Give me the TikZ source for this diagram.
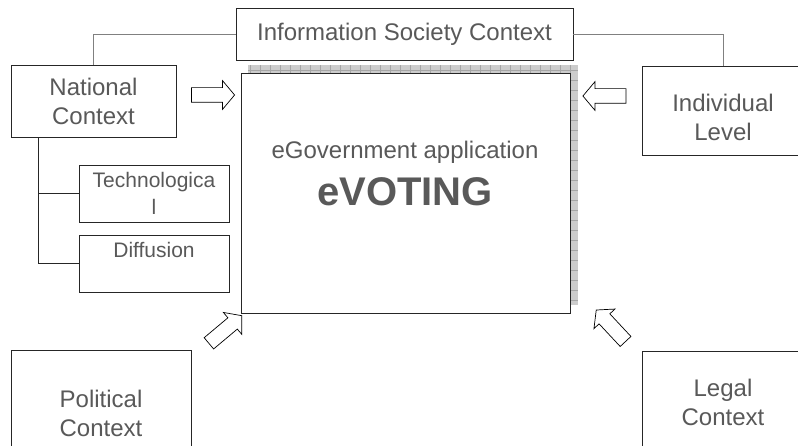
\documentclass[tikz,border=0pt]{standalone}
\usepackage{fontspec}
\setmainfont{Liberation Sans}
\usetikzlibrary{shapes.arrows}

\definecolor{txtgray}{HTML}{595959}

\begin{document}
\begin{tikzpicture}[x=1pt, y=-1pt,
  box/.style={draw=black!85, line width=0.9pt, fill=white, align=center,
    text=txtgray, font=\fontsize{24}{29}\selectfont},
  subbox/.style={box, font=\fontsize{21}{27}\selectfont},
  txt/.style={text=txtgray, align=center, font=\fontsize{24}{29}\selectfont},
  link/.style={draw=gray, line width=0.7pt},
  blockarrow/.style={single arrow, draw=black, line width=0.7pt, fill=white,
    minimum height=43pt, inner xsep=0pt, inner ysep=7pt,
    single arrow head extend=7pt, single arrow tip angle=100}
]

  % Bildgroesse festlegen
  \useasboundingbox (0,0) rectangle (798,446);
  \clip (0,0) rectangle (798,446);

  % Schatten der Mitte
  \fill[gray!40] (248,65) rectangle (578,305);
  \draw[gray!70, line width=0.4pt, step=10pt] (248,65) grid (578,305);

  % Kaesten
  \node[box, minimum width=337pt, minimum height=52pt] (info) at (404.5,34) {Information Society Context};
  \node[box, minimum width=329pt, minimum height=240pt] (app) at (405.5,193) {};
  \node[box, minimum width=165pt, minimum height=72pt] (nat) at (93.5,101) {National\\Context};
  \node[subbox, minimum width=150pt, minimum height=57pt] (tech) at (154,193.5) {Technologica\\l};
  \node[subbox, minimum width=150pt, minimum height=57pt] (diff) at (154,263.5) {Diffusion\\~};
  \node[box, minimum width=162pt, minimum height=89pt] (ind) at (723,110.5) {};
  \node[box, minimum width=180pt, minimum height=127pt] (pol) at (101,413.5) {Political\\Context};
  \node[box, minimum width=162pt, minimum height=103pt] (leg) at (723,402.5) {Legal\\Context};

  % Texte
  \node[txt] (ind-t) at (723,117) {Individual\\Level};
  \node[txt] (app-t) at (405,152) {eGovernment application};
  \node[txt, font=\fontsize{40}{48}\bfseries] (app-v) at (405,192) {eVOTING};

  % Verbindungen
  \draw[link] (nat.north) |- (info.west);
  \draw[link] (info.east) -| (ind.north);
  \coordinate (trunk) at ([xshift=28pt]nat.south west);
  \draw[black!85, line width=0.8pt] (trunk) |- (tech.west);
  \draw[black!85, line width=0.8pt] (trunk) |- (diff.west);

  % Pfeile zur Mitte
  \node[blockarrow] (arr-nat) at (210,95) {};
  \node[blockarrow, rotate=180] (arr-ind) at (607.5,96) {};
  \node[blockarrow, rotate=40] (arr-pol) at (223,331.5) {};
  \node[blockarrow, rotate=133] (arr-leg) at (613,328) {};
\end{tikzpicture}
\end{document}
